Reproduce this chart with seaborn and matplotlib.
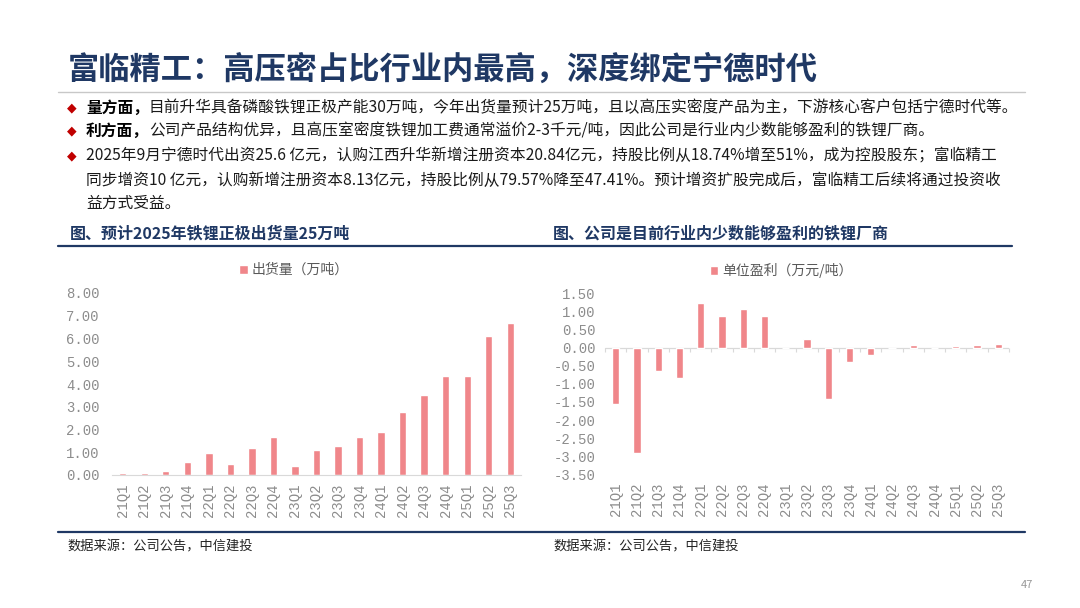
import numpy as np
import pandas as pd
import seaborn as sns
import matplotlib.pyplot as plt
from matplotlib.lines import Line2D
from matplotlib.ticker import FormatStrFormatter

# data
quarters = ['21Q1', '21Q2', '21Q3', '21Q4', '22Q1', '22Q2', '22Q3', '22Q4',
            '23Q1', '23Q2', '23Q3', '23Q4', '24Q1', '24Q2', '24Q3', '24Q4',
            '25Q1', '25Q2', '25Q3']
shipments = [0.10, 0.10, 0.19, 0.59, 0.98, 0.47, 1.20, 1.69, 0.40, 1.10,
             1.29, 1.69, 1.88, 2.78, 3.52, 4.33, 4.33, 6.12, 6.68]
unit_profit = [-1.56, -2.92, -0.65, -0.84, 1.22, 0.86, 1.06, 0.87, 0.00, 0.23,
               -1.42, -0.41, -0.21, 0.00, 0.06, 0.00, 0.04, 0.07, 0.09]

left_ticks = np.arange(0, 8.01, 1.0)
right_ticks = np.arange(-3.5, 1.51, 0.5)

title = '富临精工：高压密占比行业内最高，深度绑定宁德时代'
bullets = [
    ('量方面，', '目前升华具备磷酸铁锂正极产能30万吨，今年出货量预计25万吨，且以高压实密度产品为主，下游核心客户包括宁德时代等。'),
    ('利方面，', '公司产品结构优异，且高压室密度铁锂加工费通常溢价2-3千元/吨，因此公司是行业内少数能够盈利的铁锂厂商。'),
    ('', '2025年9月宁德时代出资25.6 亿元，认购江西升华新增注册资本20.84亿元，持股比例从18.74%增至51%，成为控股股东；富临精工'),
]
extra_lines = [
    '同步增资10 亿元，认购新增注册资本8.13亿元，持股比例从79.57%降至47.41%。预计增资扩股完成后，富临精工后续将通过投资收',
    '益方式受益。',
]
left_header = '图、预计2025年铁锂正极出货量25万吨'
right_header = '图、公司是目前行业内少数能够盈利的铁锂厂商'
source = '数据来源：公司公告，中信建投'

NAVY = '#1F3864'
BAR = '#F0868A'
TICK = '#8C8C8C'
CJK = ['Noto Sans CJK SC', 'DejaVu Sans']
MONO = ['Liberation Mono', 'DejaVu Sans Mono']

sns.set_style('white')
plt.rcParams['font.family'] = CJK
plt.rcParams['axes.unicode_minus'] = False

W, H = 1080, 608
fig = plt.figure(figsize=(W / 100, H / 100), dpi=100)
fig.patch.set_facecolor('white')


def fx(x):
    return x / W


def fy(y):
    return 1 - y / H


def hline(y, x0, x1, color, lw):
    fig.add_artist(Line2D([fx(x0), fx(x1)], [fy(y), fy(y)], color=color, lw=lw,
                          transform=fig.transFigure))


# header text
fig.text(fx(68), fy(70), title, fontsize=22.5, fontweight='bold', color=NAVY,
         va='center', ha='left')
hline(92, 58, 1025, '#C8C8C8', 1.0)

renderer = fig.canvas.get_renderer()
line_y = [108, 131, 156]
for (bold, rest), y in zip(bullets, line_y):
    fig.text(fx(72), fy(y), '◆', fontsize=9, color='#C00000', va='center',
             ha='center', family=['DejaVu Sans'])
    x = 86
    if bold:
        t = fig.text(fx(x), fy(y), bold, fontsize=11.3, fontweight='bold',
                     color='black', va='center', ha='left')
        x += t.get_window_extent(renderer).width
    fig.text(fx(x), fy(y), rest, fontsize=11.3, color='#1A1A1A', va='center',
             ha='left')
for txt, y in zip(extra_lines, [180, 203]):
    fig.text(fx(86), fy(y), txt, fontsize=11.3, color='#1A1A1A', va='center',
             ha='left')

# chart headers
fig.text(fx(70), fy(233), left_header, fontsize=11.5, fontweight='bold',
         color=NAVY, va='center', ha='left')
fig.text(fx(553), fy(233), right_header, fontsize=11.5, fontweight='bold',
         color=NAVY, va='center', ha='left')
hline(246, 58, 1012, NAVY, 1.6)

# footer
hline(532, 58, 1025, NAVY, 1.6)
fig.text(fx(67), fy(547), source, fontsize=9.5, color='#222222', va='center',
         ha='left')
fig.text(fx(553), fy(547), source, fontsize=9.5, color='#222222', va='center',
         ha='left')
fig.text(fx(1033), fy(585), '47', fontsize=8, color='#999999', va='center',
         ha='right')

df = pd.DataFrame({'quarter': quarters, 'shipments': shipments,
                   'unit_profit': unit_profit})


def style_axis(ax, ticks, pad_y):
    ax.set_yticks(ticks)
    ax.yaxis.set_major_formatter(FormatStrFormatter('%.2f'))
    ax.set_xlabel('')
    ax.set_ylabel('')
    for s in ax.spines.values():
        s.set_visible(False)
    ax.tick_params(axis='y', length=0, pad=pad_y, labelsize=10, labelcolor=TICK)
    ax.tick_params(axis='x', which='major', length=0, pad=6, labelsize=10,
                   labelcolor=TICK, labelrotation=90)
    for lab in ax.get_xticklabels() + ax.get_yticklabels():
        lab.set_family(MONO)
    ax.set_xlim(-0.5, len(quarters) - 0.5)
    ax.grid(False)
    ax.set_facecolor('white')


# left chart
ax1 = fig.add_axes([fx(112), 1 - 475 / H, 409 / W, 182 / H])
sns.barplot(data=df, x='quarter', y='shipments', color=BAR, width=0.34,
            saturation=1, label='出货量（万吨）', ax=ax1)
ax1.set_ylim(0, 8)
style_axis(ax1, left_ticks, 9)
ax1.spines['bottom'].set_visible(True)
ax1.spines['bottom'].set_color('#D9D9D9')
ax1.set_xticks(np.arange(-0.5, len(quarters), 1), minor=True)
ax1.tick_params(axis='x', which='minor', length=4, color='#D9D9D9')
ax1.legend(loc='center', bbox_to_anchor=(0.445, 1.126), frameon=False,
           handlelength=0.6, handleheight=0.6, handletextpad=0.3,
           prop={'family': CJK, 'size': 10}, labelcolor='#595959')

# right chart
ax2 = fig.add_axes([fx(605), 1 - 474.3 / H, 404 / W, 181 / H])
sns.barplot(data=df, x='quarter', y='unit_profit', color=BAR, width=0.34,
            saturation=1, label='单位盈利（万元/吨）', ax=ax2)
ax2.set_ylim(-3.5, 1.5)
style_axis(ax2, right_ticks, 7)
ax2.axhline(0, color='#D9D9D9', lw=0.9, zorder=0)
# small boundary ticks along the zero line
sec = ax2.secondary_xaxis(3.5 / 5.0)
sec.set_xticks(np.arange(-0.5, len(quarters), 1))
sec.tick_params(length=3, color='#D9D9D9', labelbottom=False, labeltop=False,
                direction='in')
sec.set_xticklabels([])
sec.spines['bottom'].set_visible(False)
sec.spines['top'].set_visible(False)
ax2.legend(loc='center', bbox_to_anchor=(0.436, 1.126), frameon=False,
           handlelength=0.6, handleheight=0.6, handletextpad=0.3,
           prop={'family': CJK, 'size': 10}, labelcolor='#595959')

fig.savefig('out.png', dpi=100, facecolor='white')
